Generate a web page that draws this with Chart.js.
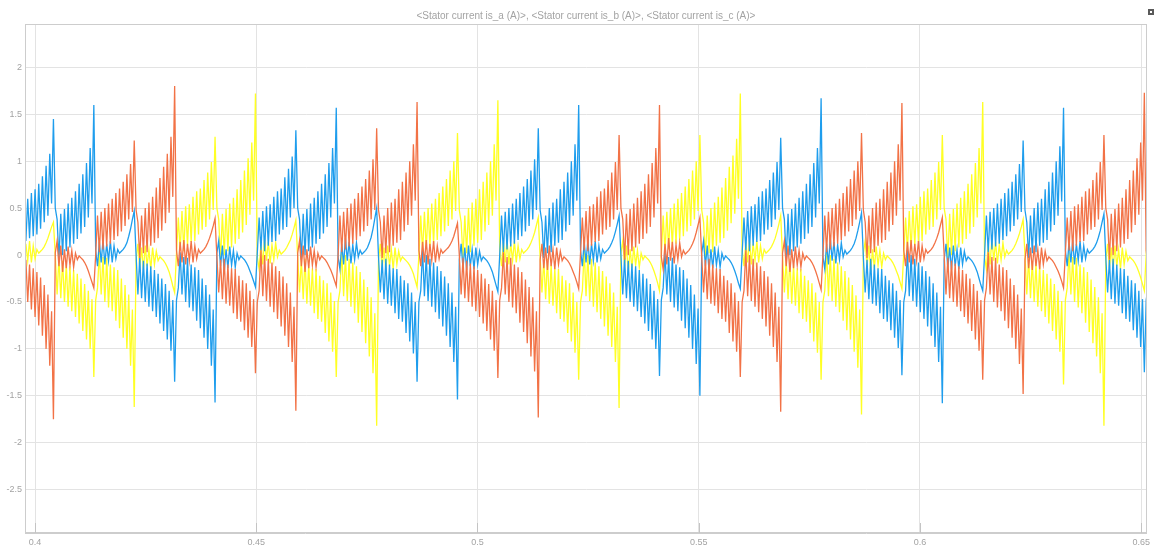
<!DOCTYPE html>
<html>
<head>
<meta charset="utf-8">
<script src="https://cdn.jsdelivr.net/npm/chart.js@4.4.1/dist/chart.umd.min.js"></script>
<style>
  html, body { margin: 0; padding: 0; background: #ffffff; }
  #c { display: block; }
</style>
</head>
<body>
<canvas id="c" width="1154" height="548"></canvas>
<script>
// ---- data ----
const chartTitle = "<Stator current is_a (A)>, <Stator current is_b (A)>, <Stator current is_c (A)>";
const seriesNames = ["is_a", "is_b", "is_c"];
const xTicks = [0.4, 0.45, 0.5, 0.55, 0.6, 0.65];
const yTicks = [-2.5, -2, -1.5, -1, -0.5, 0, 0.5, 1, 1.5, 2];
const xRange = [0.39774, 0.65126];
const yRange = [-2.962, 2.462];
const tStart = 0.39794;   // time of first sample (s)
const tStep = 0.00041505; // sample spacing (s)

// is_a (blue)
const isA = [
0.15,0.60,0.18,0.66,0.20,0.70,0.22,0.76,0.28,0.84,0.35,0.95,0.42,1.08,0.55,1.45,
0.50,0.38,-0.05,0.44,0.00,0.49,0.04,0.55,0.08,0.61,0.12,0.68,0.17,0.76,0.23,0.86,0.30,0.98,0.40,1.14,0.55,1.60,
0.05,-0.12,0.14,-0.08,0.16,-0.10,0.12,-0.06,0.15,-0.08,0.10,-0.04,0.06,0.02,0.04,0.06,0.09,0.13,0.20,0.28,0.38,0.47,
0.00,-0.42,-0.03,-0.46,-0.06,-0.50,-0.09,-0.55,-0.12,-0.60,-0.16,-0.66,-0.20,-0.73,-0.25,-0.81,-0.31,-0.90,-0.38,-1.02,-0.48,-1.35,
-0.48,-0.35,0.03,-0.42,-0.02,-0.50,-0.03,-0.56,-0.10,-0.60,-0.13,-0.70,-0.16,-0.78,-0.25,-0.88,-0.32,-1.00,-0.42,-1.18,-0.58,-1.57,
0.02,0.15,-0.12,0.10,-0.18,0.06,-0.14,0.09,-0.11,0.05,-0.13,0.02,-0.05,-0.01,-0.03,-0.05,-0.08,-0.12,-0.17,-0.22,-0.28,-0.34,
0.02,0.40,0.05,0.47,0.04,0.52,0.10,0.54,0.14,0.62,0.15,0.68,0.22,0.71,0.27,0.83,0.30,0.92,0.40,1.05,0.50,1.33,
0.50,0.38,-0.05,0.44,0.00,0.49,0.04,0.55,0.08,0.61,0.12,0.68,0.17,0.76,0.23,0.86,0.30,0.98,0.40,1.14,0.55,1.57,
-0.02,-0.15,0.12,-0.10,0.18,-0.06,0.14,-0.09,0.11,-0.05,0.13,-0.02,0.05,0.01,0.03,0.05,0.08,0.13,0.19,0.28,0.39,0.50,
-0.02,-0.40,-0.05,-0.47,-0.04,-0.52,-0.10,-0.54,-0.14,-0.62,-0.15,-0.68,-0.22,-0.71,-0.27,-0.83,-0.30,-0.92,-0.40,-1.05,-0.50,-1.35,
-0.50,-0.38,0.05,-0.44,0.00,-0.49,-0.04,-0.55,-0.08,-0.61,-0.12,-0.68,-0.17,-0.76,-0.23,-0.86,-0.30,-0.98,-0.40,-1.14,-0.55,-1.54,
-0.05,0.12,-0.14,0.08,-0.16,0.10,-0.12,0.06,-0.15,0.08,-0.10,0.04,-0.06,-0.02,-0.04,-0.06,-0.09,-0.13,-0.18,-0.25,-0.32,-0.39,
0.00,0.42,0.03,0.46,0.06,0.50,0.09,0.55,0.12,0.60,0.16,0.66,0.20,0.73,0.25,0.81,0.31,0.90,0.38,1.02,0.48,1.35,
0.48,0.35,-0.03,0.42,0.02,0.50,0.03,0.56,0.10,0.60,0.13,0.70,0.16,0.78,0.25,0.88,0.32,1.00,0.42,1.18,0.58,1.60,
0.05,-0.12,0.14,-0.08,0.16,-0.10,0.12,-0.06,0.15,-0.08,0.10,-0.04,0.06,0.02,0.04,0.06,0.09,0.13,0.18,0.25,0.33,0.42,
0.00,-0.42,-0.03,-0.46,-0.06,-0.50,-0.09,-0.55,-0.12,-0.60,-0.16,-0.66,-0.20,-0.73,-0.25,-0.81,-0.31,-0.90,-0.38,-1.00,-0.47,-1.29,
-0.48,-0.35,0.03,-0.42,-0.02,-0.50,-0.03,-0.56,-0.10,-0.60,-0.13,-0.70,-0.16,-0.78,-0.25,-0.88,-0.32,-1.00,-0.42,-1.16,-0.57,-1.50,
0.02,0.15,-0.12,0.10,-0.18,0.06,-0.14,0.09,-0.11,0.05,-0.13,0.02,-0.05,-0.01,-0.03,-0.05,-0.08,-0.12,-0.17,-0.23,-0.30,-0.36,
0.02,0.40,0.05,0.47,0.04,0.52,0.10,0.54,0.14,0.62,0.15,0.68,0.22,0.71,0.27,0.80,0.30,0.88,0.38,0.99,0.48,1.25,
0.50,0.38,-0.05,0.44,0.00,0.49,0.04,0.55,0.08,0.61,0.12,0.68,0.17,0.76,0.23,0.86,0.30,0.98,0.40,1.14,0.55,1.67,
-0.02,-0.15,0.12,-0.10,0.18,-0.06,0.14,-0.09,0.11,-0.05,0.13,-0.02,0.05,0.01,0.03,0.05,0.08,0.12,0.18,0.26,0.35,0.45,
-0.02,-0.40,-0.05,-0.47,-0.04,-0.52,-0.10,-0.54,-0.14,-0.62,-0.15,-0.68,-0.22,-0.71,-0.27,-0.80,-0.30,-0.88,-0.38,-0.99,-0.48,-1.28,
-0.50,-0.38,0.05,-0.44,0.00,-0.49,-0.04,-0.55,-0.08,-0.61,-0.12,-0.68,-0.17,-0.76,-0.23,-0.86,-0.30,-0.98,-0.40,-1.14,-0.55,-1.58,
-0.05,0.12,-0.14,0.08,-0.16,0.10,-0.12,0.06,-0.15,0.08,-0.10,0.04,-0.06,-0.02,-0.04,-0.06,-0.09,-0.13,-0.18,-0.25,-0.32,-0.38,
0.00,0.42,0.03,0.46,0.06,0.50,0.09,0.55,0.12,0.60,0.16,0.66,0.20,0.71,0.25,0.78,0.31,0.86,0.38,0.97,0.46,1.22,
0.48,0.35,-0.03,0.42,0.02,0.50,0.03,0.56,0.10,0.60,0.13,0.70,0.16,0.78,0.25,0.88,0.32,1.00,0.42,1.16,0.57,1.57,
0.05,-0.12,0.14,-0.08,0.16,-0.10,0.12,-0.06,0.15,-0.08,0.10,-0.04,0.06,0.02,0.04,0.06,0.09,0.13,0.19,0.26,0.35,0.44,
-0.02,-0.40,-0.05,-0.47,-0.04,-0.52,-0.10,-0.54,-0.14,-0.62,-0.15,-0.68,-0.22,-0.71,-0.27,-0.80,-0.30,-0.88,-0.38,-0.98,-0.47,-1.25,
-0.48,-0.35
];

// is_b (orange)
const isB = [
-0.05,-0.50,-0.10,-0.58,-0.14,-0.66,-0.18,-0.75,-0.24,-0.86,-0.32,-1.00,-0.42,-1.18,-0.60,-1.75,
0.02,0.15,-0.12,0.10,-0.18,0.06,-0.14,0.09,-0.11,0.05,-0.13,0.02,-0.05,-0.01,-0.03,-0.05,-0.08,-0.12,-0.17,-0.23,-0.29,-0.35,
0.00,0.42,0.03,0.46,0.06,0.50,0.09,0.55,0.12,0.60,0.16,0.66,0.20,0.71,0.25,0.78,0.31,0.86,0.38,0.97,0.46,1.22,
0.48,0.35,-0.03,0.42,0.02,0.50,0.03,0.56,0.10,0.62,0.13,0.72,0.18,0.82,0.26,0.94,0.34,1.08,0.45,1.26,0.62,1.80,
0.05,-0.12,0.14,-0.08,0.16,-0.10,0.12,-0.06,0.15,-0.08,0.10,-0.04,0.06,0.02,0.04,0.06,0.09,0.13,0.18,0.24,0.31,0.39,
-0.02,-0.40,-0.05,-0.47,-0.04,-0.52,-0.10,-0.54,-0.14,-0.62,-0.15,-0.68,-0.22,-0.71,-0.27,-0.80,-0.30,-0.88,-0.38,-0.98,-0.47,-1.26,
-0.50,-0.38,0.05,-0.44,0.00,-0.49,-0.04,-0.55,-0.08,-0.61,-0.12,-0.68,-0.17,-0.76,-0.23,-0.86,-0.30,-0.98,-0.40,-1.14,-0.55,-1.66,
0.02,0.15,-0.12,0.10,-0.18,0.06,-0.14,0.09,-0.11,0.05,-0.13,0.02,-0.05,-0.01,-0.03,-0.05,-0.08,-0.12,-0.16,-0.21,-0.27,-0.33,
0.00,0.42,0.03,0.46,0.06,0.50,0.09,0.55,0.12,0.60,0.16,0.66,0.20,0.73,0.25,0.81,0.31,0.90,0.38,1.02,0.48,1.35,
0.48,0.35,-0.03,0.42,0.02,0.50,0.03,0.56,0.10,0.60,0.13,0.70,0.16,0.78,0.25,0.88,0.32,1.00,0.42,1.18,0.58,1.63,
0.05,-0.12,0.14,-0.08,0.16,-0.10,0.12,-0.06,0.15,-0.08,0.10,-0.04,0.06,0.02,0.04,0.06,0.08,0.11,0.15,0.20,0.27,0.34,
0.00,-0.42,-0.03,-0.46,-0.06,-0.50,-0.09,-0.55,-0.12,-0.60,-0.16,-0.66,-0.20,-0.73,-0.25,-0.81,-0.31,-0.90,-0.38,-1.02,-0.48,-1.31,
-0.48,-0.35,0.03,-0.42,-0.02,-0.50,-0.03,-0.56,-0.10,-0.62,-0.13,-0.72,-0.18,-0.82,-0.26,-0.94,-0.34,-1.08,-0.45,-1.24,-0.60,-1.73,
-0.05,0.12,-0.14,0.08,-0.16,0.10,-0.12,0.06,-0.15,0.08,-0.10,0.04,-0.06,-0.02,-0.04,-0.06,-0.09,-0.13,-0.18,-0.23,-0.29,-0.36,
0.02,0.40,0.05,0.47,0.04,0.52,0.10,0.54,0.14,0.62,0.15,0.68,0.22,0.71,0.27,0.80,0.30,0.88,0.38,0.99,0.48,1.28,
0.50,0.38,-0.05,0.44,0.00,0.49,0.04,0.55,0.08,0.61,0.12,0.68,0.17,0.76,0.23,0.86,0.30,0.98,0.40,1.14,0.55,1.60,
-0.02,-0.15,0.12,-0.10,0.18,-0.06,0.14,-0.09,0.11,-0.05,0.13,-0.02,0.05,0.01,0.03,0.05,0.08,0.12,0.17,0.24,0.32,0.40,
-0.02,-0.40,-0.05,-0.47,-0.04,-0.52,-0.10,-0.54,-0.14,-0.62,-0.15,-0.68,-0.22,-0.71,-0.27,-0.83,-0.30,-0.92,-0.40,-1.03,-0.49,-1.30,
-0.50,-0.38,0.05,-0.44,0.00,-0.49,-0.04,-0.55,-0.08,-0.61,-0.12,-0.68,-0.17,-0.76,-0.23,-0.86,-0.30,-0.98,-0.40,-1.14,-0.55,-1.67,
0.02,0.15,-0.12,0.10,-0.18,0.06,-0.14,0.09,-0.11,0.05,-0.13,0.02,-0.05,-0.01,-0.03,-0.05,-0.08,-0.12,-0.17,-0.23,-0.30,-0.37,
0.00,0.42,0.03,0.46,0.06,0.50,0.09,0.55,0.12,0.60,0.16,0.66,0.20,0.73,0.25,0.81,0.31,0.90,0.38,1.00,0.47,1.30,
0.48,0.35,-0.03,0.42,0.02,0.50,0.03,0.56,0.10,0.60,0.13,0.70,0.16,0.78,0.25,0.88,0.32,1.00,0.42,1.18,0.58,1.62,
0.05,-0.12,0.14,-0.08,0.16,-0.10,0.12,-0.06,0.15,-0.08,0.10,-0.04,0.06,0.02,0.04,0.06,0.09,0.13,0.18,0.24,0.32,0.40,
0.00,-0.42,-0.03,-0.46,-0.06,-0.50,-0.09,-0.55,-0.12,-0.60,-0.16,-0.66,-0.20,-0.73,-0.25,-0.81,-0.31,-0.90,-0.38,-1.02,-0.48,-1.33,
-0.48,-0.35,0.03,-0.42,-0.02,-0.50,-0.03,-0.56,-0.10,-0.60,-0.13,-0.70,-0.16,-0.78,-0.25,-0.88,-0.32,-1.00,-0.42,-1.16,-0.57,-1.48,
-0.05,0.12,-0.14,0.08,-0.16,0.10,-0.12,0.06,-0.15,0.08,-0.10,0.04,-0.06,-0.02,-0.04,-0.06,-0.09,-0.13,-0.17,-0.22,-0.28,-0.35,
0.02,0.40,0.05,0.47,0.04,0.52,0.10,0.54,0.14,0.62,0.15,0.68,0.22,0.71,0.27,0.80,0.30,0.88,0.38,0.99,0.48,1.28,
0.50,0.38,-0.05,0.44,0.00,0.49,0.04,0.55,0.08,0.61,0.12,0.70,0.17,0.80,0.24,0.90,0.32,1.03,0.43,1.20,0.58,1.73,
0.05,-0.12
];

// is_c (yellow)
const isC = [
0.12,-0.06,0.15,-0.08,0.10,-0.04,0.06,0.02,0.04,0.06,0.09,0.13,0.18,0.24,0.30,0.35,
0.00,-0.42,-0.03,-0.46,-0.06,-0.50,-0.09,-0.55,-0.12,-0.60,-0.16,-0.66,-0.20,-0.73,-0.25,-0.81,-0.31,-0.90,-0.38,-1.00,-0.47,-1.30,
-0.48,-0.35,0.03,-0.42,-0.02,-0.50,-0.03,-0.56,-0.10,-0.60,-0.13,-0.70,-0.16,-0.78,-0.25,-0.88,-0.32,-1.00,-0.42,-1.18,-0.58,-1.62,
-0.05,0.12,-0.14,0.08,-0.16,0.10,-0.12,0.06,-0.15,0.08,-0.10,0.04,-0.06,-0.02,-0.04,-0.06,-0.09,-0.13,-0.18,-0.25,-0.33,-0.40,
0.02,0.40,0.05,0.47,0.04,0.52,0.10,0.54,0.14,0.62,0.15,0.68,0.22,0.71,0.27,0.80,0.30,0.88,0.38,0.99,0.48,1.26,
0.50,0.38,-0.05,0.44,0.00,0.49,0.04,0.55,0.08,0.61,0.12,0.70,0.17,0.80,0.24,0.90,0.32,1.03,0.43,1.20,0.58,1.72,
-0.02,-0.15,0.12,-0.10,0.18,-0.06,0.14,-0.09,0.11,-0.05,0.13,-0.02,0.05,0.01,0.03,0.05,0.08,0.12,0.16,0.22,0.29,0.37,
-0.02,-0.40,-0.05,-0.47,-0.04,-0.52,-0.10,-0.54,-0.14,-0.62,-0.15,-0.68,-0.22,-0.71,-0.27,-0.83,-0.30,-0.92,-0.40,-1.03,-0.49,-1.30,
-0.50,-0.38,0.05,-0.44,0.00,-0.49,-0.04,-0.55,-0.08,-0.62,-0.12,-0.72,-0.18,-0.82,-0.26,-0.94,-0.34,-1.08,-0.45,-1.26,-0.62,-1.82,
-0.05,0.12,-0.14,0.08,-0.16,0.10,-0.12,0.06,-0.15,0.08,-0.10,0.04,-0.06,-0.02,-0.04,-0.06,-0.08,-0.11,-0.15,-0.20,-0.27,-0.34,
0.00,0.42,0.03,0.46,0.06,0.50,0.09,0.55,0.12,0.60,0.16,0.66,0.20,0.73,0.25,0.81,0.31,0.90,0.38,1.00,0.47,1.30,
0.48,0.35,-0.03,0.42,0.02,0.50,0.03,0.56,0.10,0.60,0.13,0.70,0.16,0.78,0.25,0.88,0.32,1.00,0.42,1.18,0.58,1.65,
0.05,-0.12,0.14,-0.08,0.16,-0.10,0.12,-0.06,0.15,-0.08,0.10,-0.04,0.06,0.02,0.04,0.06,0.09,0.13,0.18,0.24,0.32,0.40,
-0.02,-0.40,-0.05,-0.47,-0.04,-0.52,-0.10,-0.54,-0.14,-0.62,-0.15,-0.68,-0.22,-0.71,-0.27,-0.83,-0.30,-0.92,-0.40,-1.04,-0.50,-1.33,
-0.50,-0.38,0.05,-0.44,0.00,-0.49,-0.04,-0.55,-0.08,-0.61,-0.12,-0.68,-0.17,-0.76,-0.23,-0.86,-0.30,-0.98,-0.40,-1.14,-0.55,-1.63,
0.02,0.15,-0.12,0.10,-0.18,0.06,-0.14,0.09,-0.11,0.05,-0.13,0.02,-0.05,-0.01,-0.03,-0.05,-0.08,-0.12,-0.17,-0.23,-0.30,-0.38,
0.00,0.42,0.03,0.46,0.06,0.50,0.09,0.55,0.12,0.60,0.16,0.66,0.20,0.73,0.25,0.81,0.31,0.90,0.38,1.00,0.47,1.28,
0.48,0.35,-0.03,0.42,0.02,0.50,0.03,0.56,0.10,0.62,0.13,0.72,0.18,0.82,0.26,0.94,0.34,1.06,0.44,1.24,0.60,1.72,
0.05,-0.12,0.14,-0.08,0.16,-0.10,0.12,-0.06,0.15,-0.08,0.10,-0.04,0.06,0.02,0.04,0.06,0.09,0.13,0.18,0.25,0.33,0.42,
-0.02,-0.40,-0.05,-0.47,-0.04,-0.52,-0.10,-0.54,-0.14,-0.62,-0.15,-0.68,-0.22,-0.71,-0.27,-0.83,-0.30,-0.92,-0.40,-1.04,-0.50,-1.33,
-0.50,-0.38,0.05,-0.44,0.00,-0.49,-0.04,-0.55,-0.08,-0.61,-0.12,-0.70,-0.17,-0.80,-0.24,-0.90,-0.32,-1.03,-0.43,-1.20,-0.58,-1.70,
0.02,0.15,-0.12,0.10,-0.18,0.06,-0.14,0.09,-0.11,0.05,-0.13,0.02,-0.05,-0.01,-0.03,-0.05,-0.08,-0.12,-0.17,-0.22,-0.29,-0.36,
0.02,0.40,0.05,0.47,0.04,0.52,0.10,0.54,0.14,0.62,0.15,0.68,0.22,0.71,0.27,0.80,0.30,0.88,0.38,0.99,0.48,1.28,
0.50,0.38,-0.05,0.44,0.00,0.49,0.04,0.55,0.08,0.61,0.12,0.68,0.17,0.76,0.23,0.86,0.30,0.98,0.40,1.14,0.55,1.63,
-0.02,-0.15,0.12,-0.10,0.18,-0.06,0.14,-0.09,0.11,-0.05,0.13,-0.02,0.05,0.01,0.03,0.05,0.08,0.12,0.17,0.23,0.30,0.38,
0.00,-0.42,-0.03,-0.46,-0.06,-0.50,-0.09,-0.55,-0.12,-0.60,-0.16,-0.66,-0.20,-0.73,-0.25,-0.81,-0.31,-0.90,-0.38,-1.03,-0.49,-1.38,
-0.48,-0.35,0.03,-0.42,-0.02,-0.50,-0.03,-0.56,-0.10,-0.62,-0.13,-0.72,-0.18,-0.82,-0.26,-0.94,-0.34,-1.08,-0.45,-1.26,-0.62,-1.82,
-0.05,0.12,-0.14,0.08,-0.16,0.10,-0.12,0.06,-0.15,0.08,-0.10,0.04,-0.06,-0.02,-0.04,-0.06,-0.09,-0.13,-0.18,-0.24,-0.31,-0.38,
0.00,0.42
];

// ---- styling ----
const lineColors = ["#1e9ded", "#f27246", "#ffff24"];
const drawOrder = [2, 1, 3];   // orange on top, yellow at the back
const gridColor = "#e3e3e3";
const frameColor = "#cdcdcd";
const textColor = "#a3a3a3";
const fontFamily = "'Liberation Sans', Arial, sans-serif";

if (isA.length !== isB.length || isA.length !== isC.length) {
  throw new Error("length mismatch " + isA.length + " " + isB.length + " " + isC.length);
}

function toPoints(values) {
  return values.map((v, i) => ({ x: tStart + i * tStep, y: v }));
}

const framePlugin = {
  id: 'scopeFrame',
  afterDraw(chart) {
    const ctx = chart.ctx;
    const a = chart.chartArea;
    ctx.save();
    ctx.strokeStyle = frameColor;
    ctx.lineWidth = 1;
    ctx.strokeRect(Math.round(a.left) + 0.5, Math.round(a.top) + 0.5,
                   Math.round(a.right - a.left) - 1, Math.round(a.bottom - a.top) - 1);
    // small inner tick marks on the bottom axis
    const xs = chart.scales.x;
    ctx.strokeStyle = "#c4c4c4";
    xTicks.forEach(v => {
      const px = Math.round(xs.getPixelForValue(v)) + 0.5;
      ctx.beginPath();
      ctx.moveTo(px, a.bottom - 10);
      ctx.lineTo(px, a.bottom);
      ctx.stroke();
    });
    // title
    ctx.fillStyle = textColor;
    ctx.font = "10px " + fontFamily;
    ctx.textAlign = "center";
    ctx.textBaseline = "middle";
    ctx.fillText(chartTitle, (a.left + a.right) / 2, 16);
    // tiny window icon at top right
    ctx.fillStyle = "#5a5a5a";
    ctx.fillRect(1148, 9, 6, 6);
    ctx.fillStyle = "#ffffff";
    ctx.fillRect(1150, 11, 2, 2);
    ctx.restore();
  }
};

const chart = new Chart(document.getElementById('c'), {
  type: 'line',
  data: {
    datasets: [isA, isB, isC].map((vals, i) => ({
      label: seriesNames[i],
      data: toPoints(vals),
      borderColor: lineColors[i],
      backgroundColor: lineColors[i],
      borderWidth: 1.3,
      pointRadius: 0,
      tension: 0,
      fill: false,
      order: drawOrder[i]
    }))
  },
  options: {
    responsive: false,
    animation: false,
    events: [],
    layout: { padding: { top: 24, right: 4, left: 0, bottom: 0 } },
    plugins: {
      legend: { display: false },
      tooltip: { enabled: false },
      title: { display: false }
    },
    scales: {
      x: {
        type: 'linear',
        min: xRange[0],
        max: xRange[1],
        afterBuildTicks: s => { s.ticks = xTicks.map(v => ({ value: v })); },
        afterFit: s => { s.height = 15; },
        ticks: {
          color: textColor,
          font: { family: fontFamily, size: 9 },
          padding: 4,
          maxRotation: 0,
          autoSkip: false,
          callback: v => String(+v.toFixed(2))
        },
        grid: { color: gridColor, lineWidth: 1, drawTicks: false },
        border: { display: true, color: frameColor }
      },
      y: {
        type: 'linear',
        min: yRange[0],
        max: yRange[1],
        afterBuildTicks: s => { s.ticks = yTicks.map(v => ({ value: v })); },
        afterFit: s => { s.width = 25; },
        ticks: {
          color: textColor,
          font: { family: fontFamily, size: 9 },
          padding: 3,
          autoSkip: false,
          callback: v => String(+v.toFixed(2))
        },
        grid: { color: gridColor, lineWidth: 1, drawTicks: false },
        border: { display: true, color: frameColor }
      }
    }
  },
  plugins: [framePlugin]
});
</script>
</body>
</html>
